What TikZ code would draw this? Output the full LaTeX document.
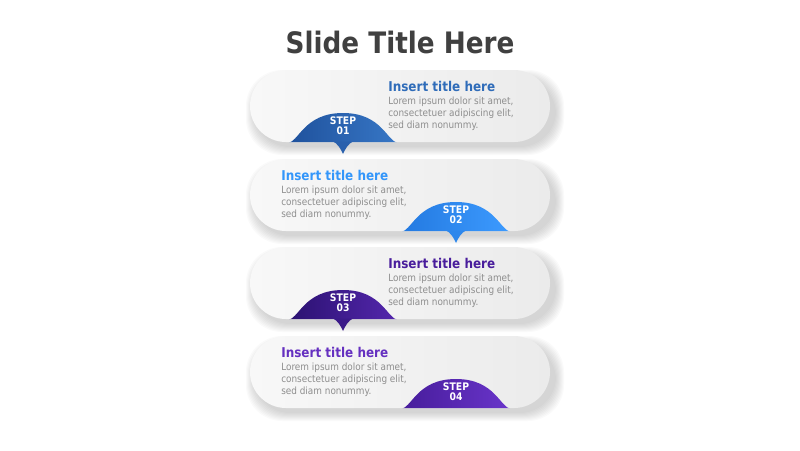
\documentclass[tikz,border=0pt]{standalone}
\usepackage{fontspec}
\setmainfont{DejaVu Sans}[FakeStretch=0.89]
\usepackage{tikz}
\usetikzlibrary{arrows, arrows.meta}

\definecolor{headgrey}{HTML}{404040}
\definecolor{bodygrey}{HTML}{8E8E8E}
\definecolor{pillleft}{HTML}{F8F8F8}
\definecolor{pillright}{HTML}{EBEBEB}
\definecolor{stepAdk}{HTML}{1F519C}
\definecolor{stepAlt}{HTML}{3777C6}
\definecolor{stepAtx}{HTML}{2F6CB9}
\definecolor{stepBdk}{HTML}{2379E0}
\definecolor{stepBlt}{HTML}{3D9BFF}
\definecolor{stepBtx}{HTML}{3396FA}
\definecolor{stepCdk}{HTML}{2A1170}
\definecolor{stepClt}{HTML}{5527AE}
\definecolor{stepCtx}{HTML}{491D9C}
\definecolor{stepDdk}{HTML}{461C9A}
\definecolor{stepDlt}{HTML}{6A35CB}
\definecolor{stepDtx}{HTML}{6530C0}

\tikzset{
  pill/.style={left color=pillleft, right color=pillright, rounded corners=0.9cm},
  pillshadow/.style={fill=black, opacity=0.02, rounded corners=0.9cm},
  headline/.style={font=\bfseries\fontsize{9.6}{12}\selectfont, anchor=base west, inner sep=0},
  bodytext/.style={font=\fontsize{7.1}{8.55}\selectfont, text=bodygrey, align=left, anchor=north west, inner sep=0},
  steplabel/.style={font=\bfseries\fontsize{7.4}{7.3}\selectfont, text=white, align=center, inner sep=0}
}

\begin{document}
\begin{tikzpicture}[x=0.025cm, y=-0.025cm]
\useasboundingbox (0,0) rectangle (800,450);
\node[font=\bfseries\fontsize{21}{25}\selectfont, text=headgrey] (slidetitle) at (400,42) {Slide Title Here};

\foreach \n/\top/\cx/\tx/\dk/\lt/\tc in {01/70/343/388/stepAdk/stepAlt/stepAtx, 02/159/456/281/stepBdk/stepBlt/stepBtx, 03/247/343/388/stepCdk/stepClt/stepCtx, 04/336/456/281/stepDdk/stepDlt/stepDtx}{
  \pgfmathsetmacro{\b}{\top+72}
  \foreach \k in {1,...,9}
    \fill[pillshadow] ({250-\k+5},{\top-\k+9}) rectangle ({550+\k+5},{\b+\k+4});
  \shade[pill] (250,\top) rectangle (550,\b);
  \begin{scope}
    \clip[rounded corners=0.9cm] (250,\top) rectangle (550,\b);
    \shade[left color=\dk, right color=\lt] ({\cx-56},{\b+1}) .. controls ({\cx-44},{\b+1}) and ({\cx-40},{\b-29}) .. (\cx,{\b-29}) .. controls ({\cx+40},{\b-29}) and ({\cx+44},{\b+1}) .. ({\cx+56},{\b+1}) -- cycle;
  \end{scope}
  \ifnum\n<4
    \fill[\dk!60!\lt] ({\cx-10},{\b-0.5}) .. controls ({\cx-6},{\b+1}) and ({\cx-2},{\b+7}) .. (\cx,{\b+12}) .. controls ({\cx+2},{\b+7}) and ({\cx+6},{\b+1}) .. ({\cx+10},{\b-0.5}) -- cycle;
  \fi
  \node[steplabel] (step\n) at (\cx,{\b-16}) {STEP\\\n};
  \node[headline, text=\tc] (title\n) at (\tx,{\top+21}) {Insert title here};
  \node[bodytext] (body\n) at (\tx,{\top+27}) {Lorem ipsum dolor sit amet,\\consectetuer adipiscing elit,\\sed diam nonummy.};
}
\end{tikzpicture}
\end{document}
